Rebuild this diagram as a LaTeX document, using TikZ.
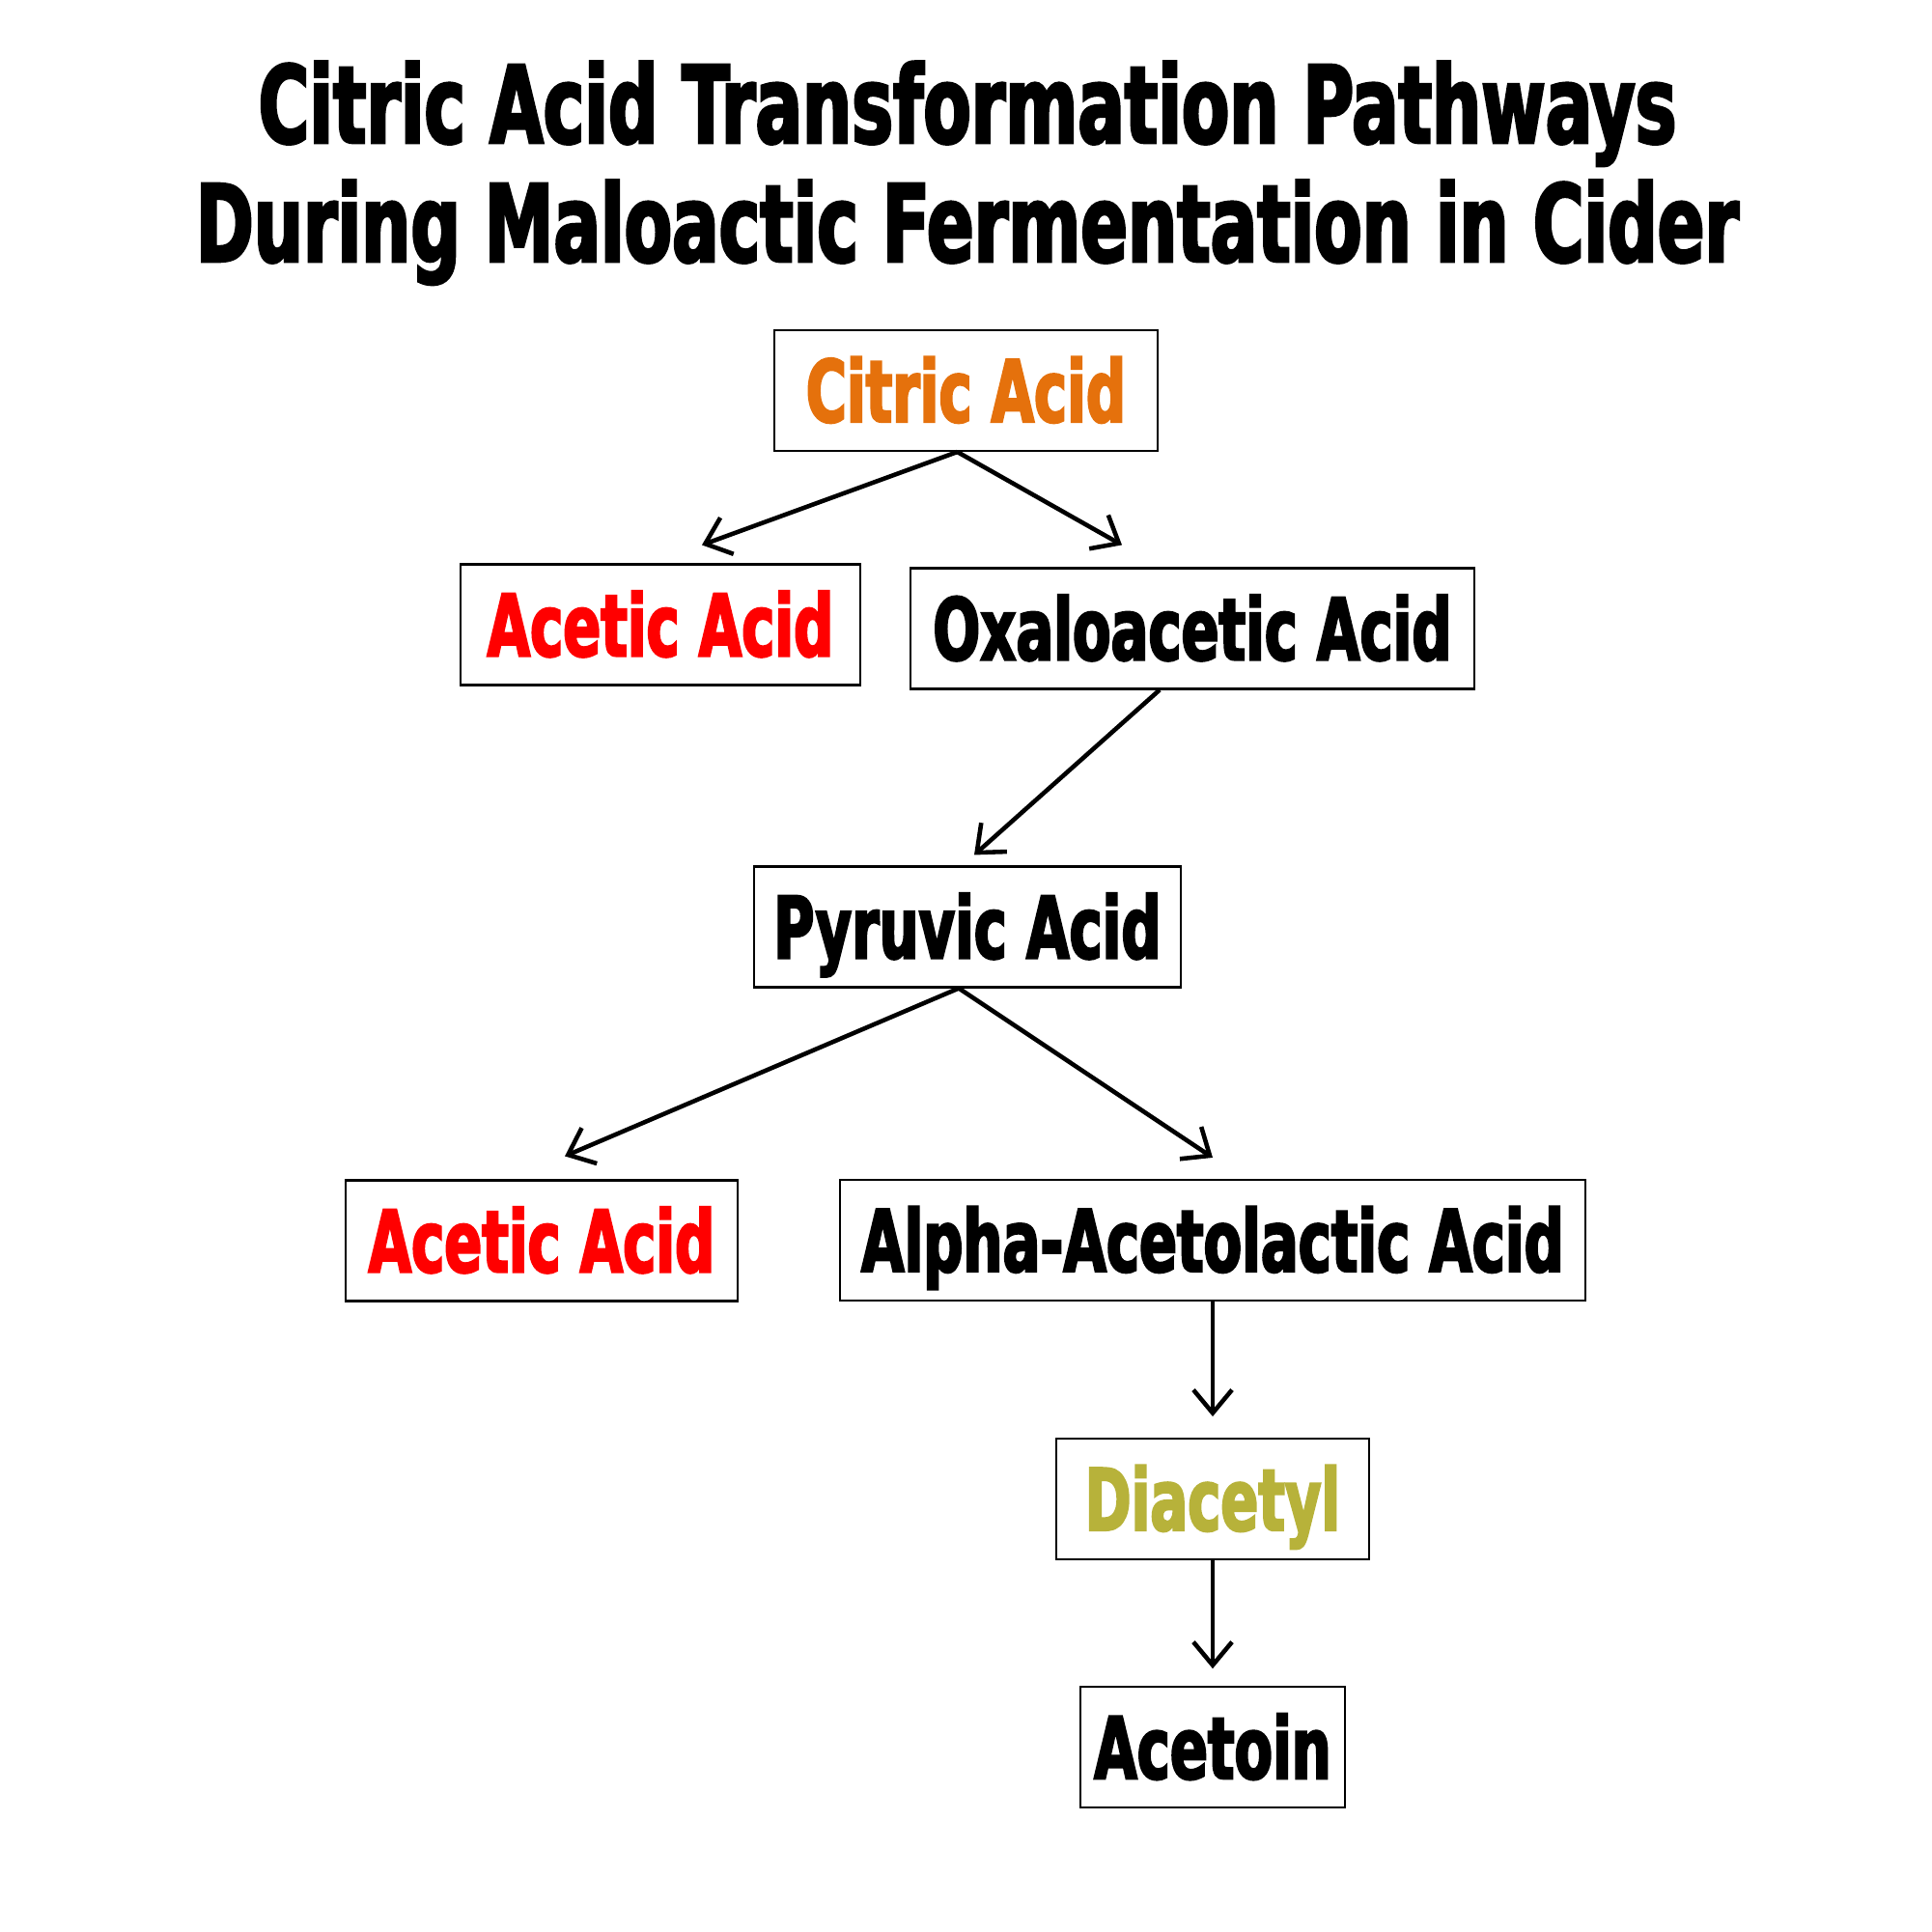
\documentclass[tikz,border=0pt]{standalone}
\usepackage{fontspec}
\usepackage{tikz}
\usetikzlibrary{positioning,arrows.meta}

\newfontfamily\impactfont{DejaVu Sans Condensed Bold}[FakeStretch=0.72,FakeBold=2.5]

\definecolor{citricorange}{RGB}{229,113,12}
\definecolor{aceticred}{RGB}{255,0,0}
\definecolor{diacetylolive}{RGB}{183,178,58}

\tikzset{
  acidbox/.style={draw, line width=0.6pt, minimum height=1.25cm, inner sep=0pt,
    text height=0.65cm, text depth=0pt, font=\impactfont\fontsize{25.3}{30}\selectfont},
  pathway/.style={line width=1.3pt, -{Straight Barb[length=2.4mm,width=4mm]}},
  headline/.style={anchor=base, font=\impactfont\fontsize{31.6}{38}\selectfont}
}

\begin{document}
\begin{tikzpicture}
	\useasboundingbox (0,0) rectangle (20,-20.01);
	
	\node[headline] (title1) at (10.02,-1.48) {Citric Acid Transformation Pathways};
	\node[headline] (title2) at (10.02,-2.71) {During Maloactic Fermentation in Cider};
	
	\node[acidbox, minimum width=3.97cm, text=citricorange] (citric)  at (10.005,-4.045) {Citric Acid};
	\node[acidbox, minimum width=4.14cm, text=aceticred]    (acetic1) at (6.84,-6.47)     {Acetic Acid};
	\node[acidbox, minimum width=5.84cm]                    (oxalo)   at (12.35,-6.51)    {Oxaloacetic Acid};
	\node[acidbox, minimum width=4.42cm]                    (pyruvic) at (10.02,-9.60)    {Pyruvic Acid};
	\node[acidbox, minimum width=4.06cm, text=aceticred]    (acetic2) at (5.61,-12.85)    {Acetic Acid};
	\node[acidbox, minimum width=7.72cm]                    (alpha)   at (12.56,-12.845)  {Alpha-Acetolactic Acid};
	\node[acidbox, minimum width=3.24cm, text=diacetylolive] (diacetyl) [below=1.41cm of alpha]    {Diacetyl};
	\node[acidbox, minimum width=2.74cm]                    (acetoin)  [below=1.30cm of diacetyl] {Acetoin};
	
	\draw[pathway] ([xshift=-0.09cm]citric.south)  -- ([xshift=0.43cm,yshift=0.19cm]acetic1.north);
	\draw[pathway] ([xshift=-0.09cm]citric.south)  -- ([xshift=-0.73cm,yshift=0.23cm]oxalo.north);
	\draw[pathway] ([xshift=-0.34cm]oxalo.south)   -- ([xshift=0.07cm,yshift=0.11cm]pyruvic.north);
	\draw[pathway] ([xshift=-0.09cm]pyruvic.south) -- ([xshift=0.24cm,yshift=0.24cm]acetic2.north);
	\draw[pathway] ([xshift=-0.09cm]pyruvic.south) -- ([yshift=0.22cm]alpha.north);
	\draw[pathway] (alpha.south)    -- ([yshift=0.22cm]diacetyl.north);
	\draw[pathway] (diacetyl.south) -- ([yshift=0.18cm]acetoin.north);
\end{tikzpicture}
\end{document}
